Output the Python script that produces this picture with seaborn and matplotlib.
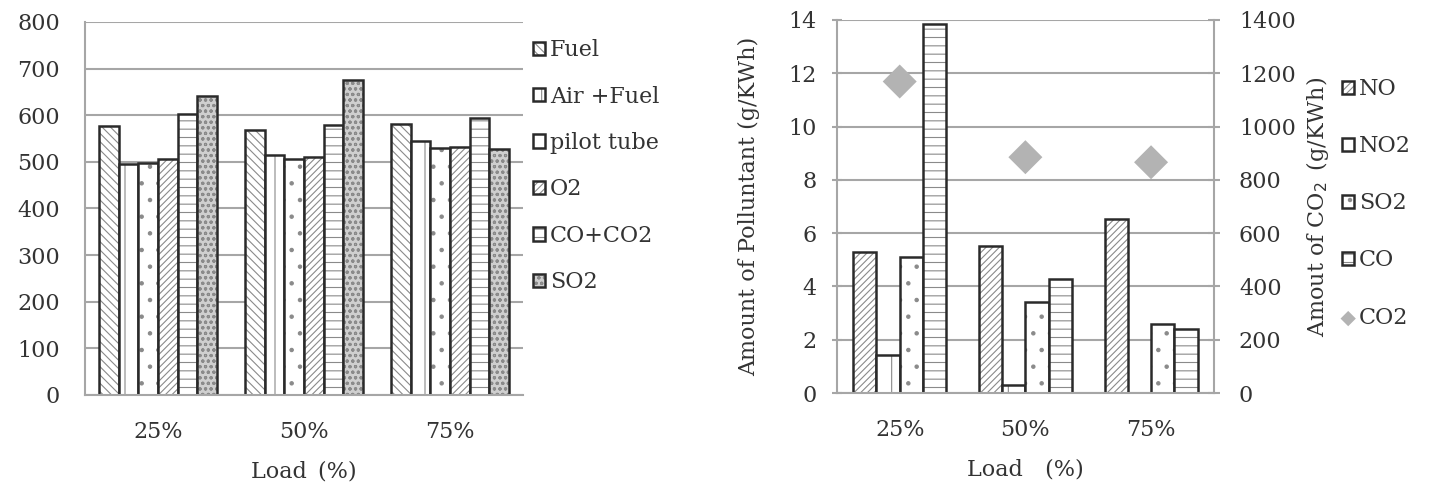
import numpy as np
import pandas as pd
import matplotlib
matplotlib.use("Agg")
import matplotlib.pyplot as plt
import matplotlib.colors as mcolors
import seaborn as sns

# === Data ===
loads = ["25%", "50%", "75%"]

temp_series = ["Fuel", "Air +Fuel", "pilot tube", "O2", "CO+CO2", "SO2"]
fuel = [576, 568, 582]
air_fuel = [495, 515, 544]
pilot_tube = [498, 507, 530]
o2 = [505, 511, 531]
co_co2 = [602, 578, 594]
so2_temp = [641, 675, 527]

pol_series = ["NO", "NO2", "SO2", "CO"]
no = [5.29, 5.52, 6.54]
no2 = [1.44, 0.29, 0.0]
so2 = [5.09, 3.41, 2.60]
co = [13.85, 4.29, 2.41]
co2 = [1169, 885, 866]

# === Style ===
sns.set_theme(style="white")
plt.rcParams["font.family"] = ["DejaVu Serif"]
plt.rcParams["font.size"] = 16
plt.rcParams["hatch.linewidth"] = 0.8
GRID = "#a6a6a6"
TXT = "#333333"
FS = 16

left_df = pd.DataFrame({
    "Load": loads * 6,
    "Series": np.repeat(temp_series, 3),
    "Value": fuel + air_fuel + pilot_tube + o2 + co_co2 + so2_temp,
})
right_df = pd.DataFrame({
    "Load": loads * 4,
    "Series": np.repeat(pol_series, 3),
    "Value": no + no2 + so2 + co,
})

fig = plt.figure(figsize=(14.33, 4.87), dpi=100)
ax1 = fig.add_axes([0.0593, 0.189, 0.3057, 0.766])
ax2 = fig.add_axes([0.584, 0.193, 0.2631, 0.766])


def style_bars(ax, hatches, faces):
    for cont, h, fc in zip(ax.containers, hatches, faces):
        for p in cont:
            p.set_facecolor(fc)
            p.set_edgecolor("#2a2a2a")
            p.set_linewidth(1.8)
            p.set_hatch(h)
            # grey hatching, black outline
            if hasattr(p, "set_hatchcolor"):
                p.set_hatchcolor("#8a8a8a")
            else:
                p._hatch_color = mcolors.to_rgba("#8a8a8a")


def style_axis(ax, n, tickdir):
    ax.set_xlim(-0.5, n - 0.5)
    for s in ["top", "right"]:
        ax.spines[s].set_visible(False)
    for s in ["left", "bottom"]:
        ax.spines[s].set_color(GRID)
        ax.spines[s].set_linewidth(1.5)
    ax.yaxis.grid(True, color=GRID, linewidth=1.5)
    ax.set_axisbelow(True)
    ax.tick_params(axis="x", which="major", length=0, pad=19, labelsize=FS, colors=TXT)
    ax.set_xticks(np.arange(-0.5, n, 1.0), minor=True)
    ax.tick_params(axis="x", which="minor", length=8, width=1.5, color=GRID, direction=tickdir)
    ax.tick_params(axis="y", length=7, width=1.5, color=GRID, direction=tickdir, pad=11,
                   labelsize=FS, labelcolor=TXT)


# === Left: temperature chart ===
sns.barplot(data=left_df, x="Load", y="Value", hue="Series", ax=ax1, width=0.81,
            gap=0, saturation=1, legend=False)
style_bars(ax1, ["\\\\\\\\", "|", ".", "/////", "--", "ooo"],
           ["white", "white", "white", "white", "white", "#cfcfcf"])
ax1.set_ylim(0, 800)
ax1.set_yticks(range(0, 801, 100))
style_axis(ax1, 3, "out")
ax1.set_xlabel("Load\u2002(%)", fontsize=FS, color=TXT, labelpad=12)
ax1.set_ylabel("")
handles1 = [cont[0] for cont in ax1.containers]
ax1.legend(handles1, temp_series, loc="upper left", bbox_to_anchor=(1.023, 0.954),
           frameon=False, borderpad=0, borderaxespad=0,
           handlelength=0.55, handleheight=0.55, handletextpad=0.2,
           labelspacing=1.1, fontsize=FS, labelcolor=TXT)

# === Right: pollutants chart ===
sns.barplot(data=right_df, x="Load", y="Value", hue="Series", ax=ax2, width=0.74,
            gap=0, saturation=1, legend=False)
style_bars(ax2, ["/////", "|", ".", "--"], ["white"] * 4)
ax2.set_ylim(0, 14)
ax2.set_yticks(range(0, 15, 2))
style_axis(ax2, 3, "inout")
ax2.set_xlabel("Load\u2003(%)", fontsize=FS, color=TXT, labelpad=12)
ax2.set_ylabel("Amount of Polluntant (g/KWh)", fontsize=FS, color=TXT, labelpad=20)

ax3 = ax2.twinx()
sns.scatterplot(x=np.arange(len(loads)), y=co2, ax=ax3, marker="D", s=300,
                color="#b3b3b3", edgecolor="none", label="CO2", legend=False)
ax3.set_ylim(0, 1400)
ax3.set_yticks(range(0, 1401, 200))
for s in ["top", "left", "bottom"]:
    ax3.spines[s].set_visible(False)
ax3.spines["right"].set_color(GRID)
ax3.spines["right"].set_linewidth(1.5)
ax3.tick_params(axis="y", length=8, width=1.5, color=GRID, direction="inout", pad=14,
                labelsize=FS, labelcolor=TXT)
ax3.set_ylabel("Amout of CO$_2$\u2002(g/KWh)", fontsize=FS, color=TXT, labelpad=6)
ax3.grid(False)

handles2 = [cont[0] for cont in ax2.containers]
h3, l3 = ax3.get_legend_handles_labels()
ax3.legend(handles2 + h3, pol_series + l3, loc="upper left", bbox_to_anchor=(1.34, 0.844),
           frameon=False, borderpad=0, borderaxespad=0, markerscale=0.45,
           handlelength=0.55, handleheight=0.55, handletextpad=0.2,
           labelspacing=1.58, fontsize=FS, labelcolor=TXT)

fig.savefig("out.png", dpi=100)
